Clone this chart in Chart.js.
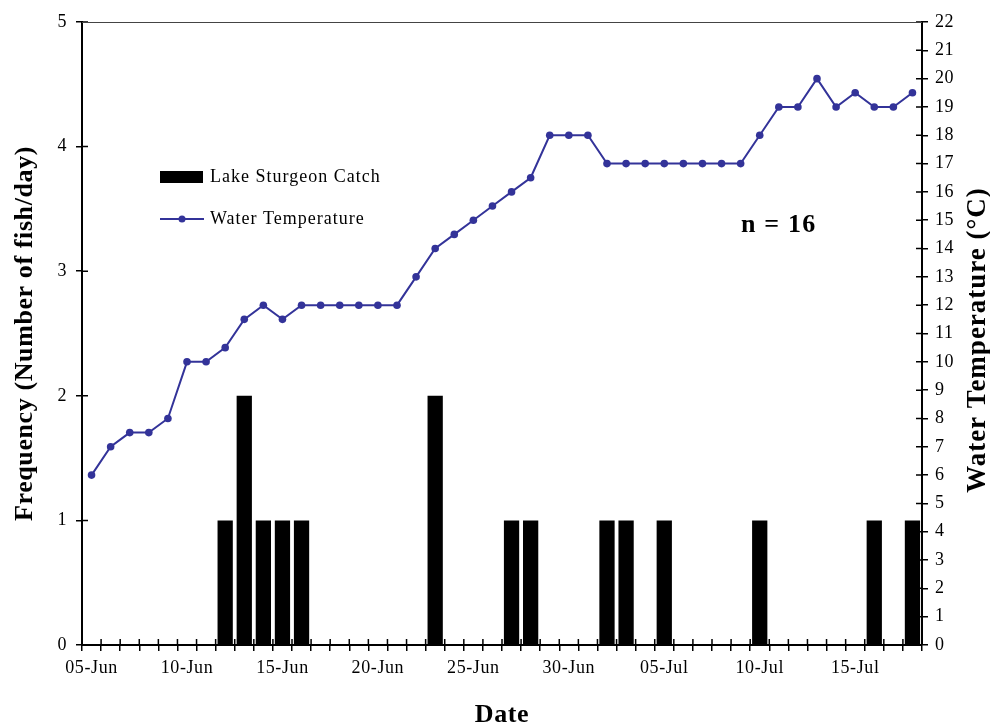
<!DOCTYPE html>
<html>
<head>
<meta charset="utf-8">
<script src="https://cdn.jsdelivr.net/npm/chart.js@4"></script>
<style>
  body { margin: 0; background: #fff; }
  canvas { display: block; }
</style>
</head>
<body>
<canvas id="catchChart" width="990" height="728"></canvas>
<script>
// daily dates on the x axis
const dates = [
  "05-Jun", "06-Jun", "07-Jun", "08-Jun", "09-Jun", "10-Jun", "11-Jun", "12-Jun", "13-Jun", "14-Jun",
  "15-Jun", "16-Jun", "17-Jun", "18-Jun", "19-Jun", "20-Jun", "21-Jun", "22-Jun", "23-Jun", "24-Jun",
  "25-Jun", "26-Jun", "27-Jun", "28-Jun", "29-Jun", "30-Jun", "01-Jul", "02-Jul", "03-Jul", "04-Jul",
  "05-Jul", "06-Jul", "07-Jul", "08-Jul", "09-Jul", "10-Jul", "11-Jul", "12-Jul", "13-Jul", "14-Jul",
  "15-Jul", "16-Jul", "17-Jul", "18-Jul"
];

// number of lake sturgeon caught per day
const sturgeonCatch = [
  0, 0, 0, 0, 0, 0, 0, 1, 2, 1,
  1, 1, 0, 0, 0, 0, 0, 0, 2, 0,
  0, 0, 1, 1, 0, 0, 0, 1, 1, 0,
  1, 0, 0, 0, 0, 1, 0, 0, 0, 0,
  0, 1, 0, 1
];

// water temperature (°C)
const waterTemp = [
  6, 7, 7.5, 7.5, 8, 10, 10, 10.5, 11.5, 12,
  11.5, 12, 12, 12, 12, 12, 12, 13, 14, 14.5,
  15, 15.5, 16, 16.5, 18, 18, 18, 17, 17, 17,
  17, 17, 17, 17, 17, 18, 19, 19, 20, 19,
  19.5, 19, 19, 19.5
];

const seriesNames = ["Lake Sturgeon Catch", "Water Temperature"];
const leftAxisTitle = "Frequency (Number of fish/day)";
const rightAxisTitle = "Water Temperature (\u00B0C)";
const xAxisTitle = "Date";
const sampleNote = "n = 16";

const serif = "'Liberation Serif', 'Times New Roman', serif";
const lineColor = "#333399";

// inner half of the crossing tick marks, top border, legend, notes
const extrasPlugin = {
  id: "extras",
  beforeDraw(chart) {
    // the original text is set a little wider
    chart.ctx.letterSpacing = "0.6px";
  },
  afterDraw(chart) {
    const ctx = chart.ctx;
    const area = chart.chartArea;
    const x = chart.scales.x;
    const y = chart.scales.y;
    const y1 = chart.scales.y1;

    ctx.save();
    ctx.strokeStyle = "#000";
    ctx.lineWidth = 1.5;
    ctx.beginPath();
    // x ticks sit between categories
    const step = (x.right - x.left) / dates.length;
    for (let i = 0; i <= dates.length; i++) {
      const px = x.getPixelForValue(i) - step / 2;
      ctx.moveTo(px, area.bottom);
      ctx.lineTo(px, area.bottom - 6);
    }
    y.ticks.forEach((t, i) => {
      const py = y.getPixelForTick(i);
      ctx.moveTo(area.left, py);
      ctx.lineTo(area.left + 6, py);
    });
    y1.ticks.forEach((t, i) => {
      const py = y1.getPixelForTick(i);
      ctx.moveTo(area.right, py);
      ctx.lineTo(area.right - 6, py);
    });
    ctx.stroke();

    // top border of the plot
    ctx.strokeStyle = "#444";
    ctx.lineWidth = 1;
    ctx.beginPath();
    ctx.moveTo(area.left, area.top + 0.5);
    ctx.lineTo(area.right, area.top + 0.5);
    ctx.stroke();

    // legend inside the plot
    ctx.fillStyle = "#000";
    ctx.fillRect(160, 171, 43, 12);
    ctx.strokeStyle = lineColor;
    ctx.lineWidth = 2;
    ctx.beginPath();
    ctx.moveTo(160, 219);
    ctx.lineTo(204, 219);
    ctx.stroke();
    ctx.fillStyle = lineColor;
    ctx.beginPath();
    ctx.arc(182, 219, 3.5, 0, Math.PI * 2);
    ctx.fill();

    ctx.fillStyle = "#000";
    ctx.letterSpacing = "1px";
    ctx.font = "18px " + serif;
    ctx.textAlign = "left";
    ctx.textBaseline = "middle";
    ctx.fillText(seriesNames[0], 210, 177);
    ctx.fillText(seriesNames[1], 210, 219);

    ctx.letterSpacing = "1.2px";
    ctx.font = "bold 26px " + serif;
    ctx.fillText(sampleNote, 741, 225);

    // right axis title reads bottom to top
    ctx.letterSpacing = "1px";
    ctx.translate(978, 340);
    ctx.rotate(-Math.PI / 2);
    ctx.textAlign = "center";
    ctx.font = "bold 27px " + serif;
    ctx.fillText(rightAxisTitle, 0, 0);
    ctx.restore();
  }
};

new Chart(document.getElementById("catchChart").getContext("2d"), {
  type: "bar",
  data: {
    labels: dates,
    datasets: [
      {
        type: "line",
        label: seriesNames[1],
        data: waterTemp,
        yAxisID: "y1",
        borderColor: lineColor,
        backgroundColor: lineColor,
        borderWidth: 2,
        pointRadius: 3.8,
        pointBorderWidth: 0,
        tension: 0,
        order: 0,
      },
      {
        label: seriesNames[0],
        data: sturgeonCatch,
        yAxisID: "y",
        backgroundColor: "#000",
        barPercentage: 0.8,
        categoryPercentage: 1,
        order: 1,
      },
    ],
  },
  options: {
    responsive: false,
    animation: false,
    layout: { padding: { top: 22, left: 0, right: 0, bottom: 0 } },
    plugins: {
      legend: { display: false },
      tooltip: { enabled: false },
    },
    scales: {
      x: {
        offset: true,
        afterFit: (scale) => { scale.height = 83; },
        grid: {
          offset: true,
          drawOnChartArea: false,
          color: "#000",
          lineWidth: 1.5,
          tickLength: 6,
        },
        border: { color: "#000", width: 2 },
        ticks: {
          autoSkip: false,
          maxRotation: 0,
          padding: 6,
          color: "#000",
          font: { family: serif, size: 18 },
          callback: function (value, index) {
            return index % 5 === 0 ? dates[index] : "";
          },
        },
        title: {
          display: true,
          text: xAxisTitle,
          color: "#000",
          font: { family: serif, size: 26, weight: "bold", lineHeight: 1 },
          padding: { top: 0, bottom: 0 },
        },
      },
      y: {
        position: "left",
        min: 0,
        max: 5,
        afterFit: (scale) => { scale.width = 82; },
        grid: {
          drawOnChartArea: false,
          color: "#000",
          lineWidth: 1.5,
          tickLength: 6,
        },
        border: { color: "#000", width: 2 },
        ticks: {
          stepSize: 1,
          padding: 9,
          color: "#000",
          font: { family: serif, size: 18 },
        },
        title: {
          display: true,
          text: leftAxisTitle,
          color: "#000",
          font: { family: serif, size: 26, weight: "bold", lineHeight: 1 },
          padding: { top: 12, bottom: 0 },
        },
      },
      y1: {
        position: "right",
        min: 0,
        max: 22,
        afterFit: (scale) => { scale.width = 68; },
        grid: {
          drawOnChartArea: false,
          color: "#000",
          lineWidth: 1.5,
          tickLength: 6,
        },
        border: { color: "#000", width: 2 },
        ticks: {
          stepSize: 1,
          padding: 7,
          color: "#000",
          font: { family: serif, size: 18 },
        },
      },
    },
  },
  plugins: [extrasPlugin],
});
</script>
</body>
</html>
